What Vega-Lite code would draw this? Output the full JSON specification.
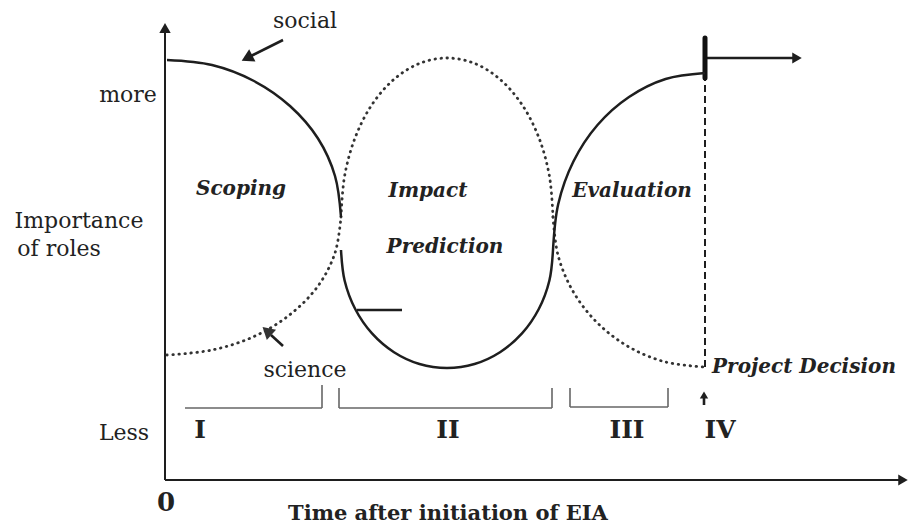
{
  "$schema": "https://vega.github.io/schema/vega-lite/v6.json",
  "width": 910,
  "height": 525,
  "autosize": {"type": "fit", "contains": "padding"},
  "padding": 0,
  "background": "white",
  "config": {"view": {"stroke": null}, "text": {"font": "DejaVu Serif", "color": "#222222"}},
  "datasets": {
    "curves": [
      {"curve": "social I", "role": "social", "i": 0, "x": 2, "y": 420},
      {"curve": "social I", "role": "social", "i": 1, "x": 47, "y": 415},
      {"curve": "social I", "role": "social", "i": 2, "x": 89, "y": 399},
      {"curve": "social I", "role": "social", "i": 3, "x": 125, "y": 374},
      {"curve": "social I", "role": "social", "i": 4, "x": 153, "y": 341.5},
      {"curve": "social I", "role": "social", "i": 5, "x": 170, "y": 304},
      {"curve": "social I", "role": "social", "i": 6, "x": 176, "y": 263},
      {"curve": "science I", "role": "science", "i": 0, "x": 2, "y": 125},
      {"curve": "science I", "role": "science", "i": 1, "x": 47, "y": 130},
      {"curve": "science I", "role": "science", "i": 2, "x": 89, "y": 143.5},
      {"curve": "science I", "role": "science", "i": 3, "x": 125, "y": 165.4},
      {"curve": "science I", "role": "science", "i": 4, "x": 153, "y": 194},
      {"curve": "science I", "role": "science", "i": 5, "x": 170, "y": 227},
      {"curve": "science I", "role": "science", "i": 6, "x": 176, "y": 263},
      {"curve": "science II", "role": "science", "i": 0, "x": 176, "y": 263},
      {"curve": "science II", "role": "science", "i": 1, "x": 179.6, "y": 304},
      {"curve": "science II", "role": "science", "i": 2, "x": 190.2, "y": 342.5},
      {"curve": "science II", "role": "science", "i": 3, "x": 207, "y": 375.4},
      {"curve": "science II", "role": "science", "i": 4, "x": 229, "y": 400.7},
      {"curve": "science II", "role": "science", "i": 5, "x": 254.5, "y": 416.6},
      {"curve": "science II", "role": "science", "i": 6, "x": 282, "y": 422},
      {"curve": "science II", "role": "science", "i": 7, "x": 309.5, "y": 416.6},
      {"curve": "science II", "role": "science", "i": 8, "x": 335, "y": 400.7},
      {"curve": "science II", "role": "science", "i": 9, "x": 357, "y": 375.4},
      {"curve": "science II", "role": "science", "i": 10, "x": 373.8, "y": 342.5},
      {"curve": "science II", "role": "science", "i": 11, "x": 384.4, "y": 304},
      {"curve": "science II", "role": "science", "i": 12, "x": 388, "y": 263},
      {"curve": "social II", "role": "social", "i": 0, "x": 176, "y": 230},
      {"curve": "social II", "role": "social", "i": 1, "x": 179.6, "y": 199.5},
      {"curve": "social II", "role": "social", "i": 2, "x": 190.2, "y": 171},
      {"curve": "social II", "role": "social", "i": 3, "x": 207, "y": 146.6},
      {"curve": "social II", "role": "social", "i": 4, "x": 229, "y": 127.8},
      {"curve": "social II", "role": "social", "i": 5, "x": 254.5, "y": 116},
      {"curve": "social II", "role": "social", "i": 6, "x": 282, "y": 112},
      {"curve": "social II", "role": "social", "i": 7, "x": 309.5, "y": 116},
      {"curve": "social II", "role": "social", "i": 8, "x": 335, "y": 127.8},
      {"curve": "social II", "role": "social", "i": 9, "x": 357, "y": 146.6},
      {"curve": "social II", "role": "social", "i": 10, "x": 373.8, "y": 171},
      {"curve": "social II", "role": "social", "i": 11, "x": 384.4, "y": 199.5},
      {"curve": "social II", "role": "social", "i": 12, "x": 388, "y": 230},
      {"curve": "science III", "role": "science", "i": 0, "x": 388, "y": 263},
      {"curve": "science III", "role": "science", "i": 1, "x": 393.2, "y": 224},
      {"curve": "science III", "role": "science", "i": 2, "x": 408.4, "y": 188},
      {"curve": "science III", "role": "science", "i": 3, "x": 432.5, "y": 157},
      {"curve": "science III", "role": "science", "i": 4, "x": 464, "y": 133},
      {"curve": "science III", "role": "science", "i": 5, "x": 500.6, "y": 118},
      {"curve": "science III", "role": "science", "i": 6, "x": 540, "y": 113},
      {"curve": "social III", "role": "social", "i": 0, "x": 388, "y": 230},
      {"curve": "social III", "role": "social", "i": 1, "x": 393.2, "y": 275.8},
      {"curve": "social III", "role": "social", "i": 2, "x": 408.4, "y": 318.5},
      {"curve": "social III", "role": "social", "i": 3, "x": 432.5, "y": 355},
      {"curve": "social III", "role": "social", "i": 4, "x": 464, "y": 383},
      {"curve": "social III", "role": "social", "i": 5, "x": 500.6, "y": 401},
      {"curve": "social III", "role": "social", "i": 6, "x": 540, "y": 407}
    ],
    "segments": [
      {"kind": "axis", "x": 0, "y": 0, "x2": 0, "y2": 452},
      {"kind": "axis", "x": 0, "y": 0, "x2": 738, "y2": 0},
      {"kind": "bracket", "x": 20, "y": 72, "x2": 157, "y2": 72},
      {"kind": "bracket", "x": 157, "y": 72, "x2": 157, "y2": 95},
      {"kind": "bracket", "x": 174, "y": 72, "x2": 387, "y2": 72},
      {"kind": "bracket", "x": 174, "y": 72, "x2": 174, "y2": 92},
      {"kind": "bracket", "x": 387, "y": 72, "x2": 387, "y2": 92},
      {"kind": "bracket", "x": 405, "y": 73, "x2": 503, "y2": 73},
      {"kind": "bracket", "x": 405, "y": 73, "x2": 405, "y2": 92},
      {"kind": "bracket", "x": 503, "y": 73, "x2": 503, "y2": 92},
      {"kind": "pointer", "x": 118, "y": 440, "x2": 86, "y2": 424},
      {"kind": "pointer", "x": 118, "y": 134, "x2": 106, "y2": 145},
      {"kind": "pointer", "x": 539, "y": 75, "x2": 539, "y2": 84},
      {"kind": "pointer", "x": 540, "y": 422, "x2": 630, "y2": 422},
      {"kind": "pointer", "x": 192, "y": 170, "x2": 237, "y2": 170},
      {"kind": "milestone", "x": 540, "y": 402, "x2": 540, "y2": 442},
      {"kind": "decision", "x": 540, "y": 113, "x2": 540, "y2": 402}
    ],
    "heads": [
      {"target": "y axis", "x": 0, "y": 452},
      {"target": "x axis", "x": 738, "y": 0},
      {"target": "decision", "x": 632, "y": 422},
      {"target": "stage IV", "x": 539, "y": 85},
      {"target": "social", "x": 82, "y": 422},
      {"target": "science", "x": 102, "y": 149}
    ],
    "labels": [
      {"kind": "plain", "text": "more", "x": -37, "y": 378},
      {"kind": "plain", "text": "Importance", "x": -86, "y": 252},
      {"kind": "plain", "text": "of roles", "x": -106, "y": 224},
      {"kind": "plain", "text": "Less", "x": -41, "y": 40},
      {"kind": "plain", "text": "social", "x": 140, "y": 452},
      {"kind": "plain", "text": "science", "x": 140, "y": 103},
      {"kind": "phase", "text": "Scoping", "x": 76, "y": 285},
      {"kind": "phase", "text": "Impact", "x": 263, "y": 283},
      {"kind": "phase", "text": "Prediction", "x": 280, "y": 227},
      {"kind": "phase", "text": "Evaluation", "x": 467, "y": 283},
      {"kind": "phase", "text": "Project Decision", "x": 639, "y": 107},
      {"kind": "stage", "text": "I", "x": 35, "y": 42},
      {"kind": "stage", "text": "II", "x": 283, "y": 42},
      {"kind": "stage", "text": "III", "x": 462, "y": 42},
      {"kind": "stage", "text": "IV", "x": 555, "y": 42},
      {"kind": "origin", "text": "0", "x": 1, "y": -31},
      {"kind": "title", "text": "Time after initiation of EIA", "x": 283, "y": -40}
    ]
  },
  "encoding": {
    "x": {"field": "x", "type": "quantitative", "scale": {"domain": [-165, 745], "nice": false, "zero": false}, "axis": null},
    "y": {"field": "y", "type": "quantitative", "scale": {"domain": [-45, 480], "nice": false, "zero": false}, "axis": null}
  },
  "layer": [
    {
      "data": {"name": "segments"},
      "transform": [{"filter": "datum.kind === 'axis'"}],
      "mark": {"type": "rule", "color": "#1e1e1e", "strokeWidth": 2},
      "encoding": {"x2": {"field": "x2"}, "y2": {"field": "y2"}}
    },
    {
      "data": {"name": "segments"},
      "transform": [{"filter": "datum.kind === 'bracket'"}],
      "mark": {"type": "rule", "color": "#666666", "strokeWidth": 1.6},
      "encoding": {"x2": {"field": "x2"}, "y2": {"field": "y2"}}
    },
    {
      "data": {"name": "segments"},
      "transform": [{"filter": "datum.kind === 'pointer'"}],
      "mark": {"type": "rule", "color": "#1e1e1e", "strokeWidth": 2.6},
      "encoding": {"x2": {"field": "x2"}, "y2": {"field": "y2"}}
    },
    {
      "data": {"name": "segments"},
      "transform": [{"filter": "datum.kind === 'decision'"}],
      "mark": {"type": "rule", "color": "#1e1e1e", "strokeWidth": 2, "strokeDash": [7, 4]},
      "encoding": {"x2": {"field": "x2"}, "y2": {"field": "y2"}}
    },
    {
      "data": {"name": "segments"},
      "transform": [{"filter": "datum.kind === 'milestone'"}],
      "mark": {"type": "rule", "color": "#111111", "strokeWidth": 5, "strokeCap": "round"},
      "encoding": {"x2": {"field": "x2"}, "y2": {"field": "y2"}}
    },
    {
      "data": {"name": "curves"},
      "transform": [{"filter": "datum.role === 'science'"}],
      "mark": {"type": "line", "color": "#333333", "strokeWidth": 2.8, "strokeDash": [0.5, 5.5], "strokeCap": "round", "interpolate": "catmull-rom"},
      "encoding": {"detail": {"field": "curve"}, "order": {"field": "i"}}
    },
    {
      "data": {"name": "curves"},
      "transform": [{"filter": "datum.role === 'social'"}],
      "mark": {"type": "line", "color": "#1e1e1e", "strokeWidth": 2.5, "interpolate": "catmull-rom"},
      "encoding": {"detail": {"field": "curve"}, "order": {"field": "i"}}
    },
    {
      "data": {"name": "heads"},
      "transform": [{"filter": "datum.target === 'y axis'"}],
      "mark": {"type": "point", "shape": "triangle-up", "filled": true, "color": "#1e1e1e", "size": 130, "opacity": 1}
    },
    {
      "data": {"name": "heads"},
      "transform": [{"filter": "datum.target === 'x axis' || datum.target === 'decision'"}],
      "mark": {"type": "point", "shape": "triangle-up", "angle": 90, "filled": true, "color": "#1e1e1e", "size": 120, "opacity": 1}
    },
    {
      "data": {"name": "heads"},
      "transform": [{"filter": "datum.target === 'stage IV'"}],
      "mark": {"type": "point", "shape": "triangle-up", "filled": true, "color": "#1e1e1e", "size": 70, "opacity": 1}
    },
    {
      "data": {"name": "heads"},
      "transform": [{"filter": "datum.target === 'social'"}],
      "mark": {"type": "point", "shape": "triangle-up", "angle": 243, "filled": true, "color": "#1e1e1e", "size": 190, "opacity": 1}
    },
    {
      "data": {"name": "heads"},
      "transform": [{"filter": "datum.target === 'science'"}],
      "mark": {"type": "point", "shape": "triangle-up", "angle": 312, "filled": true, "color": "#333333", "size": 190, "opacity": 1}
    },
    {
      "data": {"name": "labels"},
      "transform": [{"filter": "datum.kind === 'plain'"}],
      "mark": {"type": "text", "fontSize": 22, "align": "center", "baseline": "alphabetic"},
      "encoding": {"text": {"field": "text"}}
    },
    {
      "data": {"name": "labels"},
      "transform": [{"filter": "datum.kind === 'phase'"}],
      "mark": {"type": "text", "fontSize": 20, "fontStyle": "italic", "fontWeight": "bold", "align": "center", "baseline": "alphabetic"},
      "encoding": {"text": {"field": "text"}}
    },
    {
      "data": {"name": "labels"},
      "transform": [{"filter": "datum.kind === 'stage'"}],
      "mark": {"type": "text", "fontSize": 25, "fontWeight": "bold", "align": "center", "baseline": "alphabetic"},
      "encoding": {"text": {"field": "text"}}
    },
    {
      "data": {"name": "labels"},
      "transform": [{"filter": "datum.kind === 'origin'"}],
      "mark": {"type": "text", "fontSize": 26, "fontWeight": "bold", "align": "center", "baseline": "alphabetic"},
      "encoding": {"text": {"field": "text"}}
    },
    {
      "data": {"name": "labels"},
      "transform": [{"filter": "datum.kind === 'title'"}],
      "mark": {"type": "text", "fontSize": 21, "fontWeight": "bold", "align": "center", "baseline": "alphabetic"},
      "encoding": {"text": {"field": "text"}}
    }
  ]
}
